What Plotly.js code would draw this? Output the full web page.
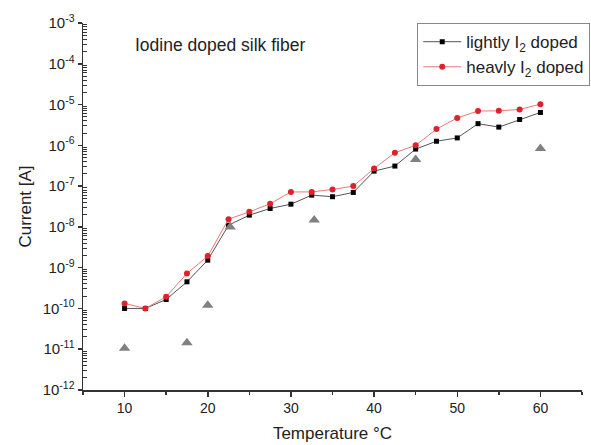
<!DOCTYPE html>
<html>
<head>
<meta charset="utf-8">
<script src="https://cdn.plot.ly/plotly-3.0.1.min.js"></script>
<style>html,body{margin:0;padding:0;background:#fff;}#chart{width:591px;height:445px;}</style>
</head>
<body>
<div id="chart"></div>
<script>
const temperature = [10, 12.5, 15, 17.5, 20, 22.5, 25, 27.5, 30, 32.5, 35, 37.5, 40, 42.5, 45, 47.5, 50, 52.5, 55, 57.5, 60];
const lightlyDoped = [1.0e-10, 1.0e-10, 1.66e-10, 4.5e-10, 1.53e-9, 1.1e-8, 1.94e-8, 2.83e-8, 3.6e-8, 6.0e-8, 5.5e-8, 7.0e-8, 2.33e-7, 3.1e-7, 8.1e-7, 1.26e-6, 1.52e-6, 3.4e-6, 2.8e-6, 4.3e-6, 6.4e-6];
const heavilyDoped = [1.33e-10, 1.0e-10, 1.94e-10, 7.2e-10, 1.92e-9, 1.55e-8, 2.34e-8, 3.7e-8, 7.2e-8, 7.2e-8, 8.3e-8, 1.0e-7, 2.7e-7, 6.6e-7, 1.0e-6, 2.5e-6, 4.7e-6, 6.96e-6, 7.0e-6, 7.6e-6, 1.02e-5];
const undopedTemp = [10, 17.5, 20, 22.7, 32.8, 45, 60];
const undoped = [1.05e-11, 1.44e-11, 1.2e-10, 1.0e-8, 1.47e-8, 4.5e-7, 8.4e-7];
const exponents = [-12, -11, -10, -9, -8, -7, -6, -5, -4, -3];
const yTickLabels = ['10<sup>-12</sup>', '10<sup>-11</sup>', '10<sup>-10</sup>', '10<sup>-9</sup>', '10<sup>-8</sup>',
  '10<sup>-7</sup>', '10<sup>-6</sup>', '10<sup>-5</sup>', '10<sup>-4</sup>', '10<sup>-3</sup>'];
const minorDigits = [2, 3, 4, 5, 6, 7, 8, 9];

const yTickVals = exponents.map(function (e) { return Math.pow(10, e); });
const minorY = [];
exponents.slice(0, -1).forEach(function (d) {
  minorDigits.forEach(function (m) { minorY.push(m * Math.pow(10, d)); });
});

const font = "'Liberation Sans', Arial, sans-serif";

const traces = [
  {x: temperature, y: lightlyDoped, type: 'scatter', mode: 'lines+markers',
   name: 'lightly I<sub>2</sub> doped',
   line: {color: '#555555', width: 1},
   marker: {symbol: 'square', color: '#000000', size: 5}},
  {x: temperature, y: heavilyDoped, type: 'scatter', mode: 'lines+markers',
   name: 'heavly I<sub>2</sub> doped',
   line: {color: '#e87878', width: 1},
   marker: {symbol: 'circle', color: '#e0202a', size: 6}},
  {x: undopedTemp, y: undoped, type: 'scatter', mode: 'markers',
   name: 'undoped', showlegend: false,
   marker: {symbol: 'triangle-up', color: '#808080', size: 10}}
];

const layout = {
  width: 591, height: 445,
  margin: {l: 83, r: 9, t: 23, b: 55, autoexpand: false},
  paper_bgcolor: '#ffffff', plot_bgcolor: '#ffffff',
  font: {family: font, color: '#222222', size: 13},
  showlegend: true,
  legend: {xref: 'container', yref: 'container', x: 0.706, y: 0.948, xanchor: 'left', yanchor: 'top',
    itemwidth: 38,
    bgcolor: '#ffffff', bordercolor: '#888888', borderwidth: 1,
    font: {family: font, size: 17, color: '#222222'}, tracegroupgap: 0},
  xaxis: {
    range: [5, 65], tickmode: 'linear', tick0: 10, dtick: 10,
    showgrid: false, zeroline: false, showline: true, linecolor: '#333333', linewidth: 1.5,
    ticks: 'outside', ticklen: 5, tickcolor: '#333333', tickwidth: 1.5,
    minor: {ticks: 'outside', ticklen: 3, dtick: 5, tick0: 5, tickcolor: '#333333', showgrid: false},
    tickfont: {family: font, size: 14, color: '#222222'},
    title: {text: 'Temperature °C', font: {family: font, size: 17, color: '#222222'}, standoff: 12}
  },
  yaxis: {
    type: 'log', range: [-12, -3], tickmode: 'array', tickvals: yTickVals, ticktext: yTickLabels,
    showgrid: false, zeroline: false, showline: true, linecolor: '#333333', linewidth: 1.5,
    ticks: 'outside', ticklen: 4, tickcolor: '#333333', tickwidth: 1.5,
    minor: {tickmode: 'array', tickvals: minorY, ticks: 'inside', ticklen: 4, tickwidth: 1, tickcolor: '#333333', showgrid: false},
    tickfont: {family: font, size: 15, color: '#222222'},
    title: {text: 'Current [A]', font: {family: font, size: 17, color: '#222222'}, standoff: 6}
  },
  annotations: [
    {text: 'Iodine doped silk fiber', xref: 'paper', yref: 'paper', x: 0.1, y: 0.94,
     xanchor: 'left', yanchor: 'middle', showarrow: false,
     font: {family: font, size: 17.5, color: '#222222'}}
  ]
};

Plotly.newPlot('chart', traces, layout, {displayModeBar: false, staticPlot: true});
</script>
</body>
</html>
